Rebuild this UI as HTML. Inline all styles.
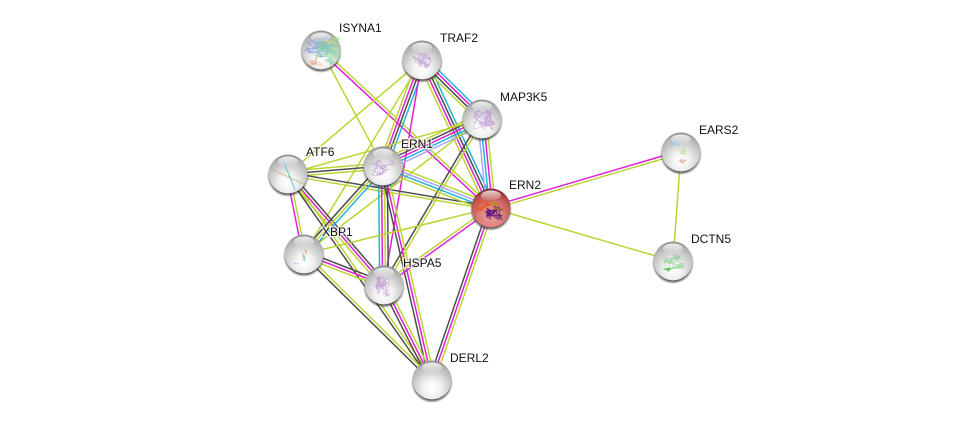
<!DOCTYPE html>
<html><head><meta charset="utf-8"><style>
html,body{margin:0;padding:0;background:#fff;width:976px;height:425px;overflow:hidden}
svg{display:block}
text{font:12px "Liberation Sans",sans-serif;fill:#111;paint-order:stroke;stroke:rgba(255,255,255,.72);stroke-width:2.5px}
</style></head><body>
<svg id="s" width="976" height="425" viewBox="0 0 976 425" xmlns="http://www.w3.org/2000/svg">
<defs>
<radialGradient id="g" cx=".5" cy=".72" r=".74"><stop offset="0" stop-color="#fff"/><stop offset=".3" stop-color="#f2f2f2"/><stop offset=".62" stop-color="#cdcdcd"/><stop offset=".85" stop-color="#b0b0b0"/><stop offset="1" stop-color="#808080"/></radialGradient>
<radialGradient id="r" cx=".5" cy=".72" r=".74"><stop offset="0" stop-color="#ef9d97"/><stop offset=".4" stop-color="#df807b"/><stop offset=".75" stop-color="#bb5552"/><stop offset="1" stop-color="#702427"/></radialGradient>
<linearGradient id="h" x1="0" y1="0" x2="0" y2="1"><stop offset="0" stop-color="#fff" stop-opacity=".8"/><stop offset="1" stop-color="#fff" stop-opacity=".05"/></linearGradient>
<radialGradient id="sh" cx=".5" cy=".5" r=".5"><stop offset=".82" stop-color="#1a1a1a" stop-opacity=".9"/><stop offset="1" stop-color="#333" stop-opacity="0"/></radialGradient>
</defs>
<g id="e" fill="none"></g>
<g id="n"></g>
<g>
<text x="339" y="32">ISYNA1</text>
<text x="440" y="42">TRAF2</text>
<text x="500" y="101">MAP3K5</text>
<text x="306" y="156">ATF6</text>
<text x="401" y="148">ERN1</text>
<text x="509" y="189">ERN2</text>
<text x="699" y="134">EARS2</text>
<text x="691" y="243">DCTN5</text>
<text x="322" y="236">XBP1</text>
<text x="403" y="267">HSPA5</text>
<text x="450" y="362">DERL2</text>
</g>
</svg>
<script>
var N={I:[321,50],T:[422,60],M:[482,119],A:[288,174],E:[383,166],R:[491,208],S:[681,152],D:[673,261],X:[304,254],H:[384,285],L:[432,380]};
var C={y:'#bcd433',m:'#e01fd6',k:'#4d4d4d',c:'#22b4d8',b:'#a6a6ff'};
var E=[['I','R','ym'],['I','E','y'],['T','A','y'],['T','X','y'],['T','E','ckmy'],['T','H','m'],['T','R','ckmy'],['T','M','cmky'],
['M','R','ymcb'],['M','E','bcmky'],['M','A','y'],['M','H','yk'],['M','X','y'],
['A','E','yky'],['A','R','ky'],['A','X','ym'],['A','H','kmy'],['A','L','yk'],
['E','R','ybcy'],['E','H','kymc'],['E','L','ymk'],['E','X','cyk'],['X','R','y'],['X','H','kmy'],['X','L','yk'],
['H','R','ym'],['H','L','ymk'],['R','L','ymk'],['R','S','my'],['R','D','y'],['S','D','y']];
var ns='http://www.w3.org/2000/svg',eg=document.getElementById('e'),ng=document.getElementById('n');
function el(t,a,p){var o=document.createElementNS(ns,t);for(var k in a)o.setAttribute(k,a[k]);p.appendChild(o);return o}
E.forEach(function(d){var a=N[d[0]],b=N[d[1]],dx=b[0]-a[0],dy=b[1]-a[1],l=Math.sqrt(dx*dx+dy*dy),nx=-dy/l,ny=dx/l,c=d[2];
for(var i=0;i<c.length;i++){var o=(i-(c.length-1)/2)*2.9;
el('line',{x1:a[0]+nx*o,y1:a[1]+ny*o,x2:b[0]+nx*o,y2:b[1]+ny*o,stroke:C[c[i]],'stroke-width':1.5},eg)}});
var seed=7;function rnd(){seed=(seed*16807)%2147483647;return seed/2147483647}
function scrib(g,x,y,w,h,col,n,op){var p='',cx=x,cy=y;for(var i=0;i<n;i++){cx+=(rnd()-.5)*w*.5;cy+=(rnd()-.5)*h*.5;
if(cx<x-w/2||cx>x+w/2)cx=x+(rnd()-.5)*w*.8;if(cy<y-h/2||cy>y+h/2)cy=y+(rnd()-.5)*h*.8;p+=cx.toFixed(1)+','+cy.toFixed(1)+' '}
el('polyline',{points:p,fill:'none',stroke:col,'stroke-width':.55,opacity:op||.7},g)}
var P={I:[[-2,-3,34,20,'#6f8fe0',110],[7,-2,26,24,'#7fdc8f',110],[9,-9,18,9,'#c8d860',40],[-6,10,14,12,'#e0a070',36],[9,11,12,9,'#60d0a0',34]],
T:[[0,0,20,16,'#b68ad0',70]],M:[[2,0,22,22,'#b68ad0',110]],A:[],E:[[0,2,24,16,'#b68ad0',70]],
R:[[-7,-3,18,12,'#e8501e',40,.95],[3,5,18,15,'#55137a',90,.95],[6,-1,16,12,'#b89020',34,.9]],
S:[[-5,-9,12,9,'#80cce8',32],[1,-1,10,10,'#b0d880',28],[1,10,8,7,'#e0907a',30]],D:[[1,1,22,15,'#70c878',70],[-5,9,10,3,'#30b040',18,.9]],
X:[[1,1,6,13,'#60c070',20],[2,-2,3,7,'#e07a60',10],[-7,10,10,3,'#7090e0',8]],H:[[-1,1,16,22,'#b68ad0',110]],L:[]};
for(var k in N){var c=N[k],g=el('g',{},ng);
el('circle',{cx:c[0],cy:c[1]+2,r:21,fill:'url(#sh)'},g);
el('circle',{cx:c[0],cy:c[1],r:19.5,fill:k=='R'?'url(#r)':'url(#g)'},g);
P[k].forEach(function(q){scrib(g,c[0]+q[0],c[1]+q[1],q[2],q[3],q[4],q[5],q[6])});
if(k=='A'){el('line',{x1:c[0]-17,y1:c[1]-5,x2:c[0]+18,y2:c[1]+11,stroke:'#c8b060','stroke-width':1.2,'stroke-dasharray':'2 1'},g);
el('line',{x1:c[0]-5,y1:c[1]-14,x2:c[0]+7,y2:c[1]+16,stroke:'#70c8d8','stroke-width':1.1},g)}
el('ellipse',{cx:c[0],cy:c[1]-12.5,rx:10,ry:5,fill:'url(#h)'},g);}
</script>
</body></html>
